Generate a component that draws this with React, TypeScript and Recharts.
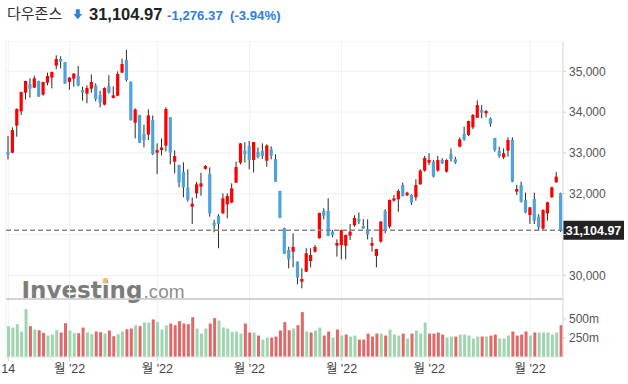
import React from "react";
import {
  ComposedChart,
  Bar,
  XAxis,
  YAxis,
  CartesianGrid,
  ReferenceLine,
  Cell,
} from "recharts";

// daily OHLC, 14 Mar - 13 Sep '22
const opens = [
  33022, 33006, 33667, 34019, 34476, 34688, 34599, 34762, 34427, 34721,
  34844, 35138, 35301, 35219, 34737, 34819, 34885, 34541, 34452, 34574,
  34648, 34419, 34182, 34639, 34345, 34402, 34966, 35277, 34746, 33741,
  33929, 33463, 33447, 33806, 33006, 33071, 33177, 33871, 32785, 32705,
  32533, 32149, 31683, 32010, 32174, 32610, 32484, 31292, 31455, 31520,
  31741, 31782, 32272, 32760, 33054, 33169, 32826, 33022, 33046, 32809,
  33095, 32850, 32068, 31161, 30622, 30581, 30336, 29846, 30091, 30352,
  30581, 30908, 31577, 31577, 31071, 30728, 30744, 30728, 30973, 31226,
  31381, 31210, 31128, 30728, 30475, 30826, 31577, 31194, 31831, 31864,
  32214, 31961, 31970, 31912, 32231, 32566, 32762, 32786, 32566, 32827,
  32541, 32973, 32843, 33153, 33463, 33438, 33626, 33863, 34051, 33970,
  33847, 33365, 33054, 32891, 33054, 33316, 32051, 32215, 31847, 31480,
  31871, 31439, 31145, 31520, 31913, 32280, 32010,
];
const highs = [
  33414, 33626, 34092, 34500, 34770, 34827, 34893, 34770, 34745, 34966,
  34990, 35391, 35367, 35225, 34860, 34958, 35130, 34623, 34656, 34925,
  34705, 34525, 34607, 34901, 34631, 34999, 35309, 35522, 34750, 34092,
  33935, 33692, 34067, 33920, 33234, 33357, 34117, 33875, 33063, 32710,
  32770, 32598, 31904, 32288, 32517, 32705, 32646, 31360, 31500, 32010,
  32010, 32255, 32785, 33240, 33259, 33291, 33270, 33136, 33234, 33210,
  33161, 32965, 32070, 31170, 30704, 31030, 30340, 30173, 30663, 30663,
  30744, 31535, 31643, 31888, 31112, 30883, 31120, 31000, 31259, 31471,
  31537, 31381, 31373, 30932, 30650, 31330, 31620, 31860, 31970, 32110,
  32272, 32050, 31990, 32353, 32600, 32925, 32990, 32830, 32925, 32870,
  32845, 33112, 32905, 33381, 33643, 33790, 33953, 34288, 34174, 34051,
  33871, 33370, 33153, 33112, 33381, 33381, 32215, 32296, 32027, 31670,
  32027, 31496, 31620, 31806, 32174, 32533, 32027,
];
const lows = [
  32842, 32990, 33398, 33929, 34313, 34353, 34590, 34370, 34402, 34656,
  34582, 35048, 35072, 34690, 34550, 34623, 34631, 34280, 34215, 34476,
  34264, 34117, 34166, 34452, 34340, 34395, 34960, 34746, 33790, 33357,
  33245, 33136, 33316, 32948, 32482, 32940, 33038, 32719, 32499, 32157,
  31912, 31806, 31259, 31888, 31953, 32590, 31439, 31055, 30663, 31510,
  31398, 31765, 32265, 32719, 32769, 32597, 32523, 32867, 32850, 32662,
  32842, 32290, 31400, 30520, 30173, 30197, 29781, 29683, 30085, 30197,
  30557, 30900, 31373, 30960, 30932, 30459, 30393, 30393, 30867, 31194,
  31259, 31140, 30883, 30581, 30197, 30800, 31030, 31150, 31806, 31560,
  31930, 31940, 31725, 31830, 32220, 32540, 32705, 32400, 32540, 32730,
  32517, 32785, 32730, 33136, 33299, 33414, 33586, 33860, 33847, 33871,
  33643, 33030, 32883, 32850, 32907, 32283, 31970, 31782, 31520, 31259,
  31259, 31087, 31112, 31340, 31900, 32270, 31063,
];
const closes = [
  32956, 33561, 34076, 34492, 34762, 34574, 34827, 34378, 34737, 34885,
  34983, 35301, 35236, 34697, 34844, 34942, 34648, 34476, 34590, 34737,
  34321, 34231, 34590, 34476, 34411, 34934, 35179, 34787, 33806, 34067,
  33250, 33316, 33920, 32973, 33071, 33136, 34076, 33006, 32924, 32272,
  32157, 31847, 31757, 32231, 32255, 32680, 31520, 31218, 31259, 31888,
  31945, 32133, 32655, 33234, 32973, 32826, 33267, 32899, 32924, 33185,
  32932, 32296, 31414, 30532, 30393, 30695, 29944, 29911, 30540, 30499,
  30695, 31528, 31463, 30965, 30989, 30793, 31112, 30989, 31071, 31406,
  31316, 31145, 31006, 30793, 30646, 31316, 31100, 31847, 31888, 32068,
  31945, 32027, 31782, 32214, 32566, 32876, 32827, 32419, 32827, 32745,
  32827, 32850, 32762, 33332, 33332, 33782, 33929, 34174, 33986, 34027,
  33708, 33071, 32924, 32989, 33316, 32296, 32117, 31806, 31537, 31667,
  31340, 31177, 31602, 31790, 32157, 32419, 31104.97,
];
// volume in millions, and the colour of each volume bar
const volumes = [
  404, 386, 430, 334, 628, 404, 360, 351, 316, 281, 294, 351, 321, 443, 347,
  312, 312, 386, 321, 299, 334, 325, 307, 347, 272, 299, 334, 364, 373, 417,
  404, 452, 452, 492, 457, 360, 413, 439, 417, 470, 439, 430, 522, 373, 307,
  373, 439, 509, 478, 386, 373, 329, 334, 307, 439, 321, 321, 281, 228, 255,
  255, 268, 347, 457, 351, 373, 417, 588, 334, 321, 347, 386, 281, 334, 255,
  360, 281, 294, 268, 281, 228, 228, 307, 268, 307, 307, 281, 360, 294, 281,
  307, 242, 307, 347, 307, 452, 307, 307, 321, 294, 255, 268, 268, 294, 294,
  281, 242, 268, 268, 268, 281, 294, 242, 242, 281, 334, 281, 294, 334, 281,
  321, 321, 321, 321, 294, 321, 417,
];
const volSide = [
  "g", "g", "g", "g", "g", "r", "g", "r", "r", "g", "g", "g", "r", "r", "g",
  "g", "r", "r", "g", "g", "r", "r", "g", "r", "r", "g", "g", "r", "r", "g",
  "r", "g", "g", "r", "g", "g", "g", "r", "r", "r", "r", "r", "r", "g", "g",
  "g", "r", "r", "g", "g", "g", "g", "g", "g", "r", "r", "g", "r", "g", "g",
  "r", "r", "r", "r", "r", "g", "r", "r", "g", "r", "g", "g", "r", "r", "g",
  "r", "g", "r", "g", "g", "r", "r", "r", "r", "r", "g", "r", "g", "g", "g",
  "r", "g", "r", "g", "g", "g", "r", "r", "r", "r", "g", "g", "r", "g", "g",
  "g", "g", "g", "r", "g", "r", "r", "g", "g", "g", "r", "r", "r", "r", "g",
  "r", "g", "g", "g", "g", "g", "r",
];

const tickIdx = [0, 14, 34, 55, 76, 96, 119];
const tickText = ["14", "월 '22", "월 '22", "월 '22", "월 '22", "월 '22", "월 '22"];
const priceTicks = [30000, 31000, 32000, 33000, 34000, 35000];
const volTicks = [250, 500];
const lastPrice = 31104.97;

const UP = "#ff0000";
const DOWN = "#4da3dc";
const VOL_UP = "#9fd5ae";
const VOL_DOWN = "#e06868";
const FONT = "'Liberation Sans', Arial, 'Noto Sans CJK KR', sans-serif";

const rows = opens.map((o, i) => ({
  i,
  open: o,
  high: highs[i],
  low: lows[i],
  close: closes[i],
  vol: volumes[i],
  side: volSide[i],
}));

const Candle = (props: any) => {
  const { x, y, width, height, payload } = props;
  if (!payload) return null;
  const { open, close, high, low } = payload;
  const top = Math.min(y, y + height);
  const h = Math.abs(height);
  const span = high - low || 1;
  const toPx = (v: number) => top + ((high - v) / span) * h;
  const cx = x + width / 2;
  const b1 = toPx(Math.max(open, close));
  const b2 = toPx(Math.min(open, close));
  return (
    <g>
      <line x1={cx} x2={cx} y1={top} y2={top + h} stroke="#2a2a2a" strokeWidth={1} />
      <rect
        x={cx - 1.6}
        y={b1}
        width={3.2}
        height={Math.max(b2 - b1, 1.5)}
        fill={close >= open ? UP : DOWN}
      />
    </g>
  );
};

const PriceTag = (props: any) => {
  const vb = props.viewBox;
  if (!vb) return null;
  const left = vb.x + vb.width;
  return (
    <g>
      <rect x={left} y={vb.y - 9.5} width={61} height={19} fill="#232323" />
      <text x={left + 30.5} y={vb.y + 4.5} textAnchor="middle" fill="#fff" fontSize={12.5} fontWeight="bold">
        31,104.97
      </text>
    </g>
  );
};

const fmtTick = (v: number) => {
  const k = tickIdx.indexOf(v);
  return k >= 0 ? tickText[k] : "";
};

export default function App() {
  return (
    <div
      style={{
        position: "absolute",
        left: 0,
        top: 0,
        width: 628,
        height: 384,
        background: "#fff",
        fontFamily: FONT,
        overflow: "hidden",
      }}
    >
      {/* header */}
      <svg width={628} height={30} style={{ position: "absolute", left: 0, top: 0 }}>
        <text x={7} y={19} fontSize={15} fill="#333" fontFamily="'Noto Sans CJK KR', sans-serif">
          다우존스
        </text>
        <path d="M75.8 9.3 h4 v4.6 h2.4 l-4.4 5.4 l-4.4 -5.4 h2.4 z" fill="#2f80d8" />
        <text x={89} y={20} fontSize={16.5} fontWeight="bold" fill="#222">
          31,104.97
        </text>
        <text x={167} y={19.5} fontSize={13.2} fontWeight="bold" fill="#2f7fdc">
          -1,276.37
        </text>
        <text x={230} y={19.5} fontSize={13.2} fontWeight="bold" fill="#2f7fdc">
          (-3.94%)
        </text>
      </svg>

      {/* watermark */}
      <svg width={628} height={384} style={{ position: "absolute", left: 0, top: 0 }}>
        <text x={21.5} y={298} fontSize={23} fontWeight="bold" fill="#7c7c7c" fontFamily="'DejaVu Sans', sans-serif">
          Investing
        </text>
        <path d="M103.5 278.3 h4.3 l-0.8 4.6 h-4.3 z" fill="#f5b862" />
        <text x={143.5} y={298} fontSize={19} fill="#8d8d8d">
          .com
        </text>
      </svg>

      {/* price panel */}
      <div style={{ position: "absolute", left: 0, top: 41 }}>
        <ComposedChart
          width={628}
          height={258}
          data={rows}
          margin={{ top: 0, right: 0, bottom: 0, left: 6 }}
          barCategoryGap={0}
        >
          <CartesianGrid stroke="#f1f1f1" />
          <XAxis dataKey="i" type="category" ticks={tickIdx} hide />
          <YAxis
            orientation="right"
            width={65}
            domain={[29421, 35742]}
            ticks={priceTicks}
            interval={0}
            tickFormatter={(v: number) => (v === 31000 ? "" : v.toLocaleString("en-US"))}
            tick={{ fontSize: 12, fill: "#555" }}
            tickSize={3}
            tickMargin={3}
            axisLine={{ stroke: "#dcdcdc" }}
            tickLine={{ stroke: "#cfcfcf" }}
          />
          <Bar
            dataKey={(d: any) => [d.low, d.high]}
            shape={<Candle />}
            isAnimationActive={false}
          />
          <ReferenceLine
            y={lastPrice}
            stroke="#858585"
            strokeWidth={1.5}
            strokeDasharray="5 3"
            label={<PriceTag />}
          />
        </ComposedChart>
      </div>

      {/* volume panel */}
      <div style={{ position: "absolute", left: 0, top: 298 }}>
        <ComposedChart
          width={628}
          height={86}
          data={rows}
          margin={{ top: 1, right: 0, bottom: 0, left: 6 }}
        >
          <CartesianGrid stroke="#f1f1f1" horizontal={false} />
          <XAxis
            dataKey="i"
            type="category"
            ticks={tickIdx}
            tickFormatter={fmtTick}
            height={27}
            tick={{ fontSize: 12.5, fill: "#444" }}
            tickSize={4}
            tickMargin={3}
            axisLine={{ stroke: "#e4e4e4" }}
            tickLine={{ stroke: "#d0d0d0" }}
            interval={0}
          />
          <YAxis
            orientation="right"
            width={65}
            domain={[0, 760]}
            ticks={volTicks}
            interval={0}
            tickFormatter={(v: number) => `${v}m`}
            tick={{ fontSize: 12, fill: "#555" }}
            tickSize={3}
            tickMargin={3}
            axisLine={{ stroke: "#dcdcdc" }}
            tickLine={{ stroke: "#cfcfcf" }}
          />
          <ReferenceLine y={760} stroke="#c6c6c6" strokeWidth={1.5} />
          <Bar dataKey="vol" barSize={3} isAnimationActive={false}>
            {rows.map((r, k) => (
              <Cell key={k} fill={r.side === "r" ? VOL_DOWN : VOL_UP} />
            ))}
          </Bar>
        </ComposedChart>
      </div>
    </div>
  );
}
